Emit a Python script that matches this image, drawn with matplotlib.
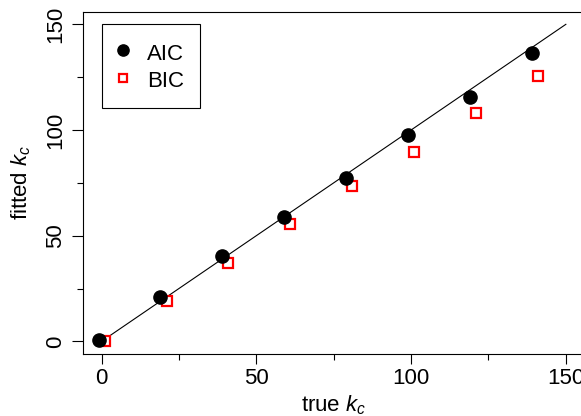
import matplotlib.pyplot as plt
import numpy as np

plt.rcParams['font.family'] = ['Liberation Sans', 'DejaVu Sans']
plt.rcParams['mathtext.fontset'] = 'custom'
plt.rcParams['mathtext.rm'] = 'Liberation Sans'
plt.rcParams['mathtext.it'] = 'Liberation Sans:italic'

# true number of change points vs fitted (AIC / BIC)
true_k = [0, 20, 40, 60, 80, 100, 120, 140]
aic_k = [0.5, 21, 40.5, 59, 77.5, 97.5, 115.5, 136.5]
bic_k = [0, 19, 37, 55.5, 73.5, 89.5, 108, 125.5]
ref_line = [0, 150]

fig = plt.figure(figsize=(5.81, 4.16), dpi=100)
ax = fig.add_axes([0.1429, 0.149, 0.863, 0.823])

x = np.array(true_k)
ax.plot(ref_line, ref_line, color='black', lw=0.8, zorder=1)
ax.plot(x - 1, aic_k, 'o', color='black', ms=9.5, label='AIC', zorder=3)
ax.plot(x + 1, bic_k, 's', mfc='white', mec='red', mew=1.6, ms=7.5,
        label='BIC', zorder=2)

ax.set_xlim(-6, 156)
ax.set_ylim(-6, 156)
ax.set_xticks([0, 50, 100, 150])
ax.set_yticks([0, 50, 100, 150])
ax.set_xticks([25, 75, 125], minor=True)
ax.set_yticks([25, 75, 125], minor=True)
ax.tick_params(axis='x', which='major', direction='out', length=7,
               width=0.8, labelsize=16, pad=3)
ax.tick_params(axis='y', which='major', direction='out', length=8,
               width=0.8, labelsize=16, pad=4)
ax.tick_params(axis='both', which='minor', direction='out', length=4.5,
               width=0.8)
for lbl in ax.get_yticklabels():
    lbl.set_rotation(90)
    lbl.set_va('center')
for sp in ax.spines.values():
    sp.set_linewidth(0.8)

ax.set_xlabel(r'true $k_c$', fontsize=16, labelpad=3)
ax.set_ylabel(r'fitted $k_c$', fontsize=16, labelpad=9)

leg = ax.legend(loc='upper left', bbox_to_anchor=(0.038, 0.964),
                borderaxespad=0, fancybox=False, framealpha=1,
                edgecolor='black', fontsize=16, handlelength=0.45,
                handleheight=1.3, handletextpad=0.86, borderpad=0.72,
                labelspacing=0.15, markerscale=0.85)
leg.get_frame().set_linewidth(0.8)

fig.savefig('out.png', dpi=100)
